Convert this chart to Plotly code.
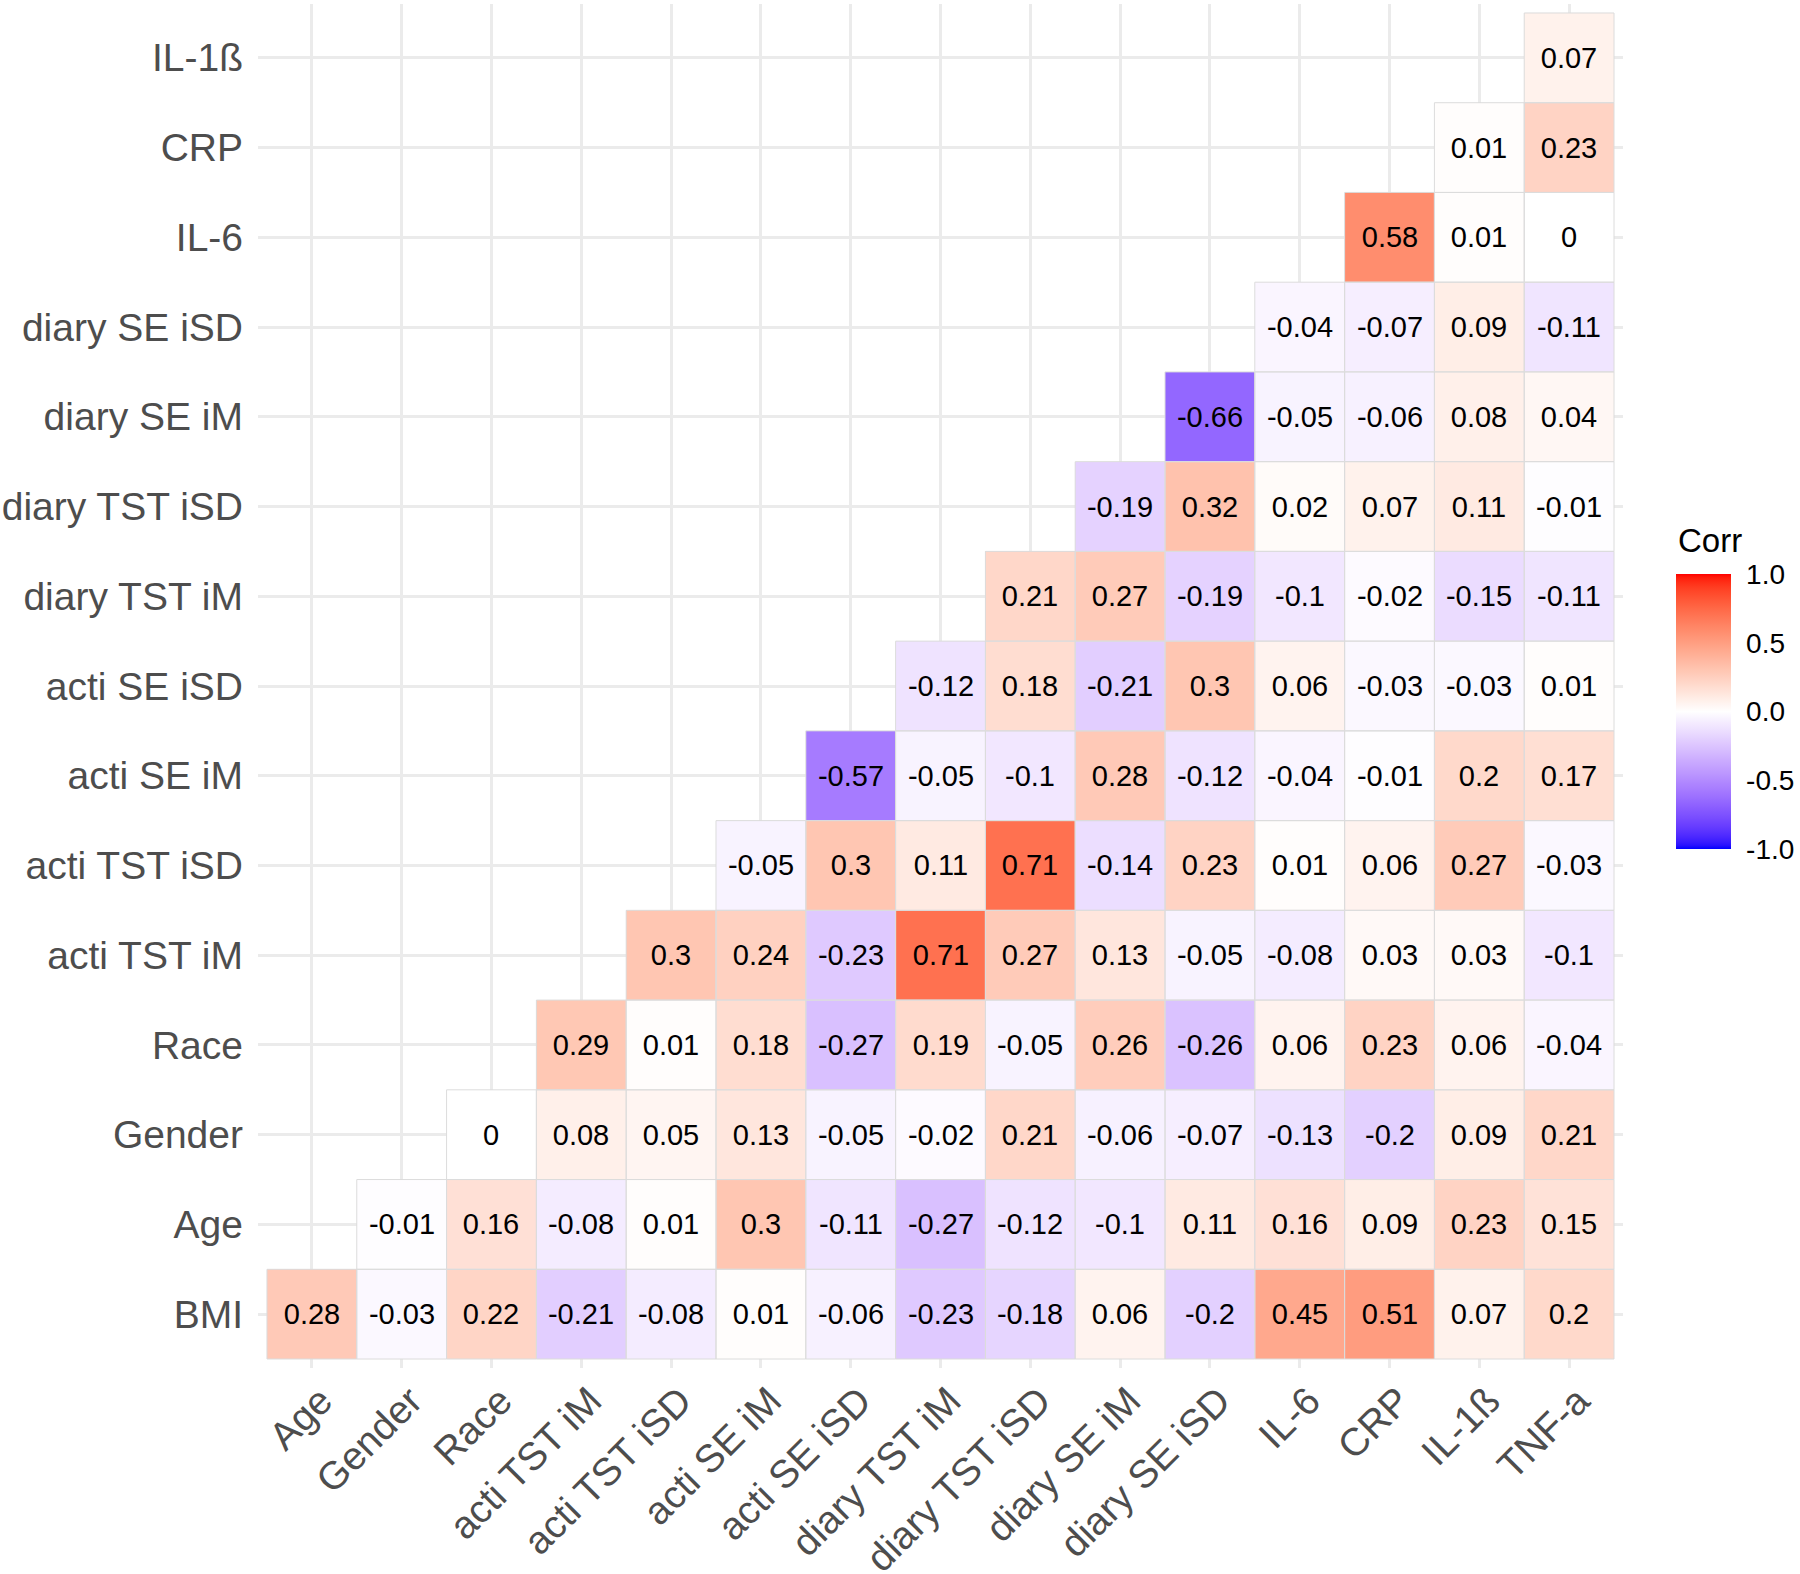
import plotly.graph_objects as go

# ---------------- data ----------------
x_labels = ["Age", "Gender", "Race", "acti TST iM", "acti TST iSD", "acti SE iM",
            "acti SE iSD", "diary TST iM", "diary TST iSD", "diary SE iM",
            "diary SE iSD", "IL-6", "CRP", "IL-1ß", "TNF-a"]
y_labels = ["BMI", "Age", "Gender", "Race", "acti TST iM", "acti TST iSD",
            "acti SE iM", "acti SE iSD", "diary TST iM", "diary TST iSD",
            "diary SE iM", "diary SE iSD", "IL-6", "CRP", "IL-1ß"]

# each row lists correlations starting at the column matching its position
row_BMI = [0.28, -0.03, 0.22, -0.21, -0.08, 0.01, -0.06, -0.23, -0.18, 0.06, -0.2, 0.45, 0.51, 0.07, 0.2]
row_Age = [-0.01, 0.16, -0.08, 0.01, 0.3, -0.11, -0.27, -0.12, -0.1, 0.11, 0.16, 0.09, 0.23, 0.15]
row_Gender = [0, 0.08, 0.05, 0.13, -0.05, -0.02, 0.21, -0.06, -0.07, -0.13, -0.2, 0.09, 0.21]
row_Race = [0.29, 0.01, 0.18, -0.27, 0.19, -0.05, 0.26, -0.26, 0.06, 0.23, 0.06, -0.04]
row_acti_TST_iM = [0.3, 0.24, -0.23, 0.71, 0.27, 0.13, -0.05, -0.08, 0.03, 0.03, -0.1]
row_acti_TST_iSD = [-0.05, 0.3, 0.11, 0.71, -0.14, 0.23, 0.01, 0.06, 0.27, -0.03]
row_acti_SE_iM = [-0.57, -0.05, -0.1, 0.28, -0.12, -0.04, -0.01, 0.2, 0.17]
row_acti_SE_iSD = [-0.12, 0.18, -0.21, 0.3, 0.06, -0.03, -0.03, 0.01]
row_diary_TST_iM = [0.21, 0.27, -0.19, -0.1, -0.02, -0.15, -0.11]
row_diary_TST_iSD = [-0.19, 0.32, 0.02, 0.07, 0.11, -0.01]
row_diary_SE_iM = [-0.66, -0.05, -0.06, 0.08, 0.04]
row_diary_SE_iSD = [-0.04, -0.07, 0.09, -0.11]
row_IL6 = [0.58, 0.01, 0]
row_CRP = [0.01, 0.23]
row_IL1b = [0.07]

rows = [row_BMI, row_Age, row_Gender, row_Race, row_acti_TST_iM, row_acti_TST_iSD,
        row_acti_SE_iM, row_acti_SE_iSD, row_diary_TST_iM, row_diary_TST_iSD,
        row_diary_SE_iM, row_diary_SE_iSD, row_IL6, row_CRP, row_IL1b]

colorbar_ticks = [-1.0, -0.5, 0.0, 0.5, 1.0]
colorbar_ticktext = ["-1.0", "-0.5", "0.0", "0.5", "1.0"]

# ---------------- Lab-interpolated diverging scale (blue-white-red) ----------------
def srgb_to_lab(rgb):
    def lin(c):
        c = c / 255.0
        return c / 12.92 if c <= 0.04045 else ((c + 0.055) / 1.055) ** 2.4
    r, g, b = [lin(c) for c in rgb]
    X = 0.4124 * r + 0.3576 * g + 0.1805 * b
    Y = 0.2126 * r + 0.7152 * g + 0.0722 * b
    Z = 0.0193 * r + 0.1192 * g + 0.9505 * b
    Xn, Yn, Zn = 0.95047, 1.0, 1.08883
    def f(t):
        return t ** (1 / 3) if t > 0.008856 else 7.787 * t + 16 / 116
    fx, fy, fz = f(X / Xn), f(Y / Yn), f(Z / Zn)
    return (116 * fy - 16, 500 * (fx - fy), 200 * (fy - fz))


def lab_to_srgb(lab):
    L, a, b = lab
    fy = (L + 16) / 116
    fx = fy + a / 500
    fz = fy - b / 200
    def finv(t):
        return t ** 3 if t ** 3 > 0.008856 else (t - 16 / 116) / 7.787
    Xn, Yn, Zn = 0.95047, 1.0, 1.08883
    X, Y, Z = Xn * finv(fx), Yn * finv(fy), Zn * finv(fz)
    r = 3.2406 * X - 1.5372 * Y - 0.4986 * Z
    g = -0.9689 * X + 1.8758 * Y + 0.0415 * Z
    bb = 0.0557 * X - 0.2040 * Y + 1.0570 * Z
    def gam(c):
        c = max(0.0, min(1.0, c))
        v = 12.92 * c if c <= 0.0031308 else 1.055 * c ** (1 / 2.4) - 0.055
        return int(round(max(0, min(1, v)) * 255))
    return (gam(r), gam(g), gam(bb))


low, mid, high = (0, 0, 255), (255, 255, 255), (255, 0, 0)
lab_low, lab_mid, lab_high = srgb_to_lab(low), srgb_to_lab(mid), srgb_to_lab(high)
n = 40
colorscale = []
for i in range(n + 1):
    t = i / n
    lab = tuple(lab_low[k] + (lab_mid[k] - lab_low[k]) * t for k in range(3))
    c = lab_to_srgb(lab)
    colorscale.append([0.5 * t, f"rgb({c[0]},{c[1]},{c[2]})"])
for i in range(1, n + 1):
    t = i / n
    lab = tuple(lab_mid[k] + (lab_high[k] - lab_mid[k]) * t for k in range(3))
    c = lab_to_srgb(lab)
    colorscale.append([0.5 + 0.5 * t, f"rgb({c[0]},{c[1]},{c[2]})"])

# ---------------- matrix ----------------
nx = len(x_labels)
ny = len(y_labels)
z = []
txt = []
for i, r in enumerate(rows):
    zr = [None] * nx
    tr = [""] * nx
    for j, v in enumerate(r):
        zr[i + j] = v
        tr[i + j] = f"{v:g}"
    z.append(zr)
    txt.append(tr)

FONT = "Liberation Sans, Arial, Helvetica, sans-serif"

# layout geometry
W, H = 1800, 1574
ML, MR, MT, MB = 258, 177, 4, 206
PW, PH = W - ML - MR, H - MT - MB
CB_X = 1.0388          # colorbar left edge (paper)
CB_Y = 0.4813          # colorbar centre (paper)
CB_THICK = 55          # px
CB_LEN = 275           # px

fig = go.Figure()
fig.add_trace(go.Heatmap(
    z=z, x=list(range(nx)), y=list(range(ny)),
    text=txt, texttemplate="%{text}",
    textfont=dict(family=FONT, size=29, color="black"),
    colorscale=colorscale, zmin=-1, zmax=1,
    hoverongaps=False, xgap=0, ygap=0,
    colorbar=dict(
        tickvals=colorbar_ticks, ticktext=colorbar_ticktext,
        thickness=CB_THICK, thicknessmode="pixels",
        len=CB_LEN, lenmode="pixels",
        x=CB_X, xanchor="left", xpad=0,
        y=CB_Y, yanchor="middle", ypad=0,
        outlinewidth=0,
        ticks="outside", ticklen=10, tickcolor="rgba(0,0,0,0)", tickwidth=1,
        tickfont=dict(family=FONT, size=28, color="black"),
    ),
))
# invisible helper trace so the label axis (x2) is drawn
fig.add_trace(go.Scatter(x=[None], y=[None], xaxis="x2", yaxis="y",
                         showlegend=False, hoverinfo="skip"))

# tile outlines
for i, r in enumerate(rows):
    for j in range(len(r)):
        cx = i + j
        fig.add_shape(type="rect", x0=cx - 0.5, x1=cx + 0.5, y0=i - 0.5, y1=i + 0.5,
                      xref="x", yref="y", line=dict(color="#DCDCDC", width=1),
                      fillcolor="rgba(0,0,0,0)", layer="above")

# white tick marks on both edges of the colour bar
dx_bar = CB_THICK / PW
dx_tick = 10 / PW
for v in colorbar_ticks:
    yy = CB_Y + v * (CB_LEN / 2) / PH
    for x0, x1 in ((CB_X, CB_X + dx_tick), (CB_X + dx_bar - dx_tick, CB_X + dx_bar)):
        fig.add_shape(type="line", xref="paper", yref="paper", x0=x0, x1=x1, y0=yy, y1=yy,
                      line=dict(color="white", width=1.5), layer="above")

fig.add_annotation(text="Corr", xref="paper", yref="paper", x=CB_X, y=0.607,
                   xanchor="left", yanchor="middle", showarrow=False,
                   font=dict(family=FONT, size=33, color="black"))

fig.update_layout(
    xaxis=dict(
        tickmode="array", tickvals=list(range(nx)), showticklabels=False,
        range=[-0.6, nx - 0.4],
        showgrid=True, gridcolor="#EBEBEB", gridwidth=3, zeroline=False,
        showline=False, ticks="",
    ),
    xaxis2=dict(
        overlaying="x", side="bottom", anchor="y",
        tickmode="array", tickvals=[i + 0.1 for i in range(nx)], ticktext=x_labels,
        range=[-0.6, nx - 0.4], tickangle=-45,
        showgrid=False, zeroline=False, showline=False, ticks="",
        ticklabelstandoff=1,
        tickfont=dict(family=FONT, size=39, color="#4D4D4D"),
    ),
    yaxis=dict(
        tickmode="array", tickvals=list(range(ny)), ticktext=y_labels,
        range=[-0.6, ny - 0.4],
        showgrid=True, gridcolor="#EBEBEB", gridwidth=3, zeroline=False,
        showline=False, ticks="", ticklabelstandoff=14,
        tickfont=dict(family=FONT, size=39, color="#4D4D4D"),
    ),
    width=W, height=H,
    margin=dict(l=ML, r=MR, t=MT, b=MB, autoexpand=False),
    plot_bgcolor="white", paper_bgcolor="white",
    font=dict(family=FONT),
)

fig.write_html("out.html", config={"displayModeBar": False},
               post_script="document.body.style.margin='0';")
